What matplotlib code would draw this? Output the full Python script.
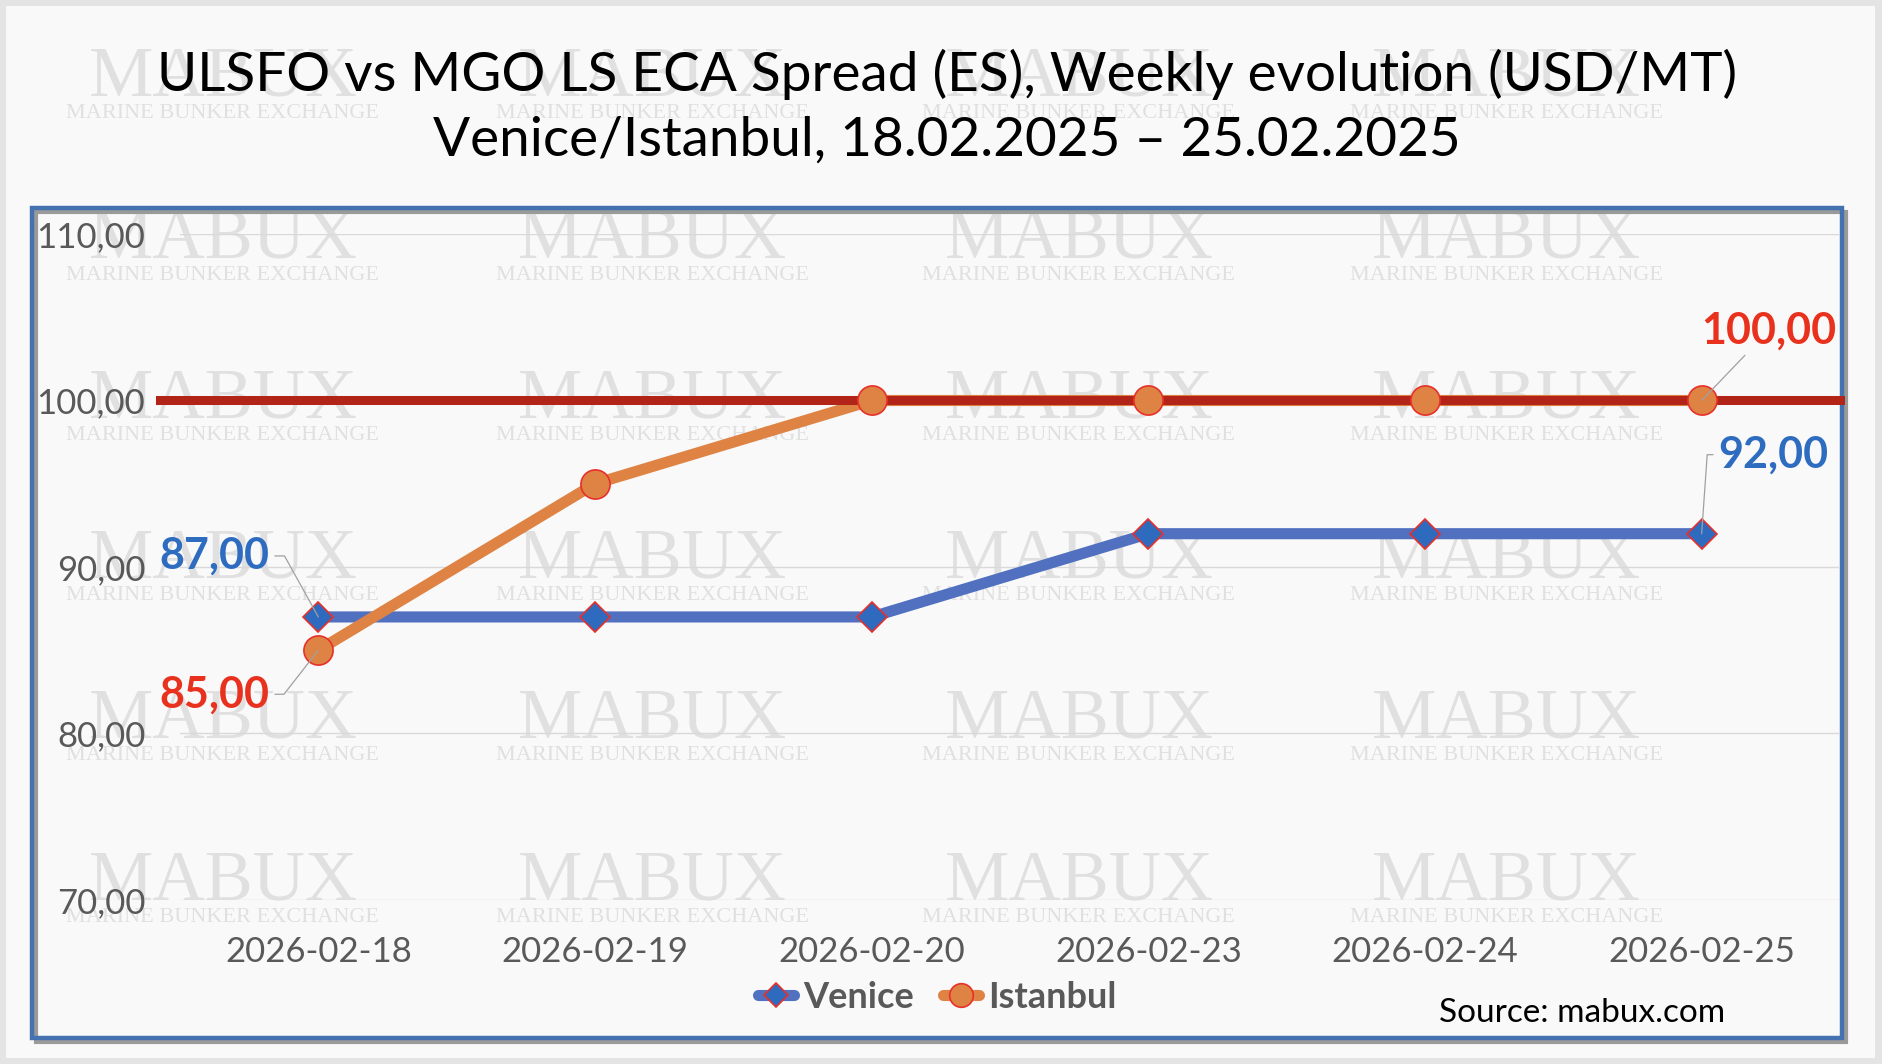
import matplotlib
matplotlib.use("Agg")
import matplotlib.pyplot as plt
from matplotlib.lines import Line2D
from matplotlib.patches import Rectangle
from matplotlib.ticker import FuncFormatter

dates = ["2026-02-18", "2026-02-19", "2026-02-20", "2026-02-23", "2026-02-24", "2026-02-25"]
venice = [87, 87, 87, 92, 92, 92]
istanbul = [85, 95, 100, 100, 100, 100]
reference_level = 100
y_ticks = [70, 80, 90, 100, 110]

title_1 = "ULSFO vs MGO LS ECA Spread (ES), Weekly evolution (USD/MT)"
title_2 = "Venice/Istanbul, 18.02.2025 \u2013 25.02.2025"

W, H = 1882, 1064
BLUE_LINE = "#5170C0"
BLUE_MARK = "#2E6BBF"
ORANGE = "#DE8344"
RED_EDGE = "#E8302A"
RED_REF = "#B22418"
BLUE_LABEL = "#2E6CC0"
RED_LABEL = "#E8321E"
GREY_TXT = "#595959"
FONT = "Lato"


def fx(x):
    return x / W


def fy(y):
    return 1 - y / H


def fmt(v):
    return f"{v:.2f}".replace(".", ",")


plt.rcParams["font.family"] = [FONT, "DejaVu Sans"]
fig = plt.figure(figsize=(W / 100, H / 100), dpi=100)
fig.patch.set_facecolor("#e4e4e4")
fig.patches.append(Rectangle((fx(6), fy(1058)), fx(1869), (1052) / H,
                             transform=fig.transFigure, facecolor="#f9f9f9",
                             edgecolor="none", zorder=-10))

# watermark (only the copies that fit inside the picture)
for cx in [223, 652, 1079, 1506]:
    for cy in [78, 240, 400, 560, 720, 882]:
        fig.text(fx(cx), fy(cy), "MABUX", family="Liberation Serif", fontsize=52,
                 color="#e0e0e0", ha="center", va="center", zorder=-5)
        fig.text(fx(cx), fy(cy + 36), "MARINE BUNKER EXCHANGE", family="Liberation Serif",
                 fontsize=16, color="#e0e0e0", ha="center", va="center", zorder=-5)

# blue frame with shadow
fig.patches.append(Rectangle((fx(36), fy(1042)), fx(1810), 830 / H, transform=fig.transFigure,
                             facecolor="none", edgecolor="#9a9a9a", lw=3, zorder=-4))
fig.patches.append(Rectangle((fx(32), fy(1038)), fx(1810), 830 / H, transform=fig.transFigure,
                             facecolor="none", edgecolor="#4472B0", lw=3.2, zorder=-3))

ax = fig.add_axes([fx(180), fy(900), (1840 - 180) / W, (900 - 234) / H])
ax.set_facecolor("none")
x = list(range(len(dates)))

ax.plot(x, venice, color=BLUE_LINE, lw=8, solid_capstyle="butt", zorder=2)
ax.plot(x, istanbul, color=ORANGE, lw=8, solid_capstyle="butt", zorder=2.1)
ax.axhline(reference_level, xmin=-0.012, xmax=1.0, color=RED_REF, lw=6.5, zorder=3, clip_on=False)
ax.plot(x, venice, ls="none", marker="D", ms=15, mfc=BLUE_MARK, mec=RED_EDGE, mew=1.2, zorder=4)
ax.plot(x, istanbul, ls="none", marker="o", ms=21, mfc=ORANGE, mec=RED_EDGE, mew=1.2, zorder=4.1)

ax.set_xlim(-0.5, len(dates) - 0.5)
ax.set_ylim(y_ticks[0], y_ticks[-1])
ax.set_yticks(y_ticks)
ax.yaxis.set_major_formatter(FuncFormatter(lambda v, p: fmt(v)))
ax.set_xticks(x)
ax.set_xticklabels(dates)
ax.grid(axis="y", color="#d9d9d9", lw=1)
ax.set_axisbelow(True)
for s in ax.spines.values():
    s.set_visible(False)
ax.tick_params(axis="y", length=0, pad=25, labelsize=25, labelcolor=GREY_TXT)
ax.tick_params(axis="x", length=0, pad=26, labelsize=25, labelcolor=GREY_TXT)


# data labels (first and last point of each series)
def label(text, xy, off, color, conn):
    ax.annotate(text, xy, xytext=off, textcoords="offset pixels", ha="center", va="center",
                fontsize=31, fontweight="bold", color=color, zorder=6,
                arrowprops=dict(arrowstyle="-", color="#a0a0a0", lw=0.9, shrinkA=2, shrinkB=0,
                                connectionstyle=conn))


label(fmt(venice[0]), (x[0], venice[0]), (-104, 61), BLUE_LABEL, "angle,angleA=0,angleB=119,rad=0")
label(fmt(istanbul[0]), (x[0], istanbul[0]), (-104, -44), RED_LABEL, "angle,angleA=0,angleB=-128,rad=0")
label(fmt(istanbul[-1]), (x[-1], istanbul[-1]), (67, 70), RED_LABEL, "arc3,rad=0")
label(fmt(venice[-1]), (x[-1], venice[-1]), (72, 79), BLUE_LABEL, "angle,angleA=180,angleB=86,rad=0")

handles = [
    Line2D([], [], color=BLUE_LINE, lw=8, solid_capstyle="round", marker="D", ms=12,
           mfc=BLUE_MARK, mec=RED_EDGE, mew=1.2),
    Line2D([], [], color=ORANGE, lw=8, solid_capstyle="round", marker="o", ms=17,
           mfc=ORANGE, mec=RED_EDGE, mew=1.2),
]
leg = fig.legend(handles, ["Venice", "Istanbul"], loc="center", bbox_to_anchor=(fx(937), fy(997)),
                 ncol=2, frameon=False, handlelength=1.0, handletextpad=0.25, columnspacing=0.8,
                 prop=dict(family=FONT, size=26, weight="bold"))
for t in leg.get_texts():
    t.set_color(GREY_TXT)

fig.text(fx(1582), fy(1013), "Source: mabux.com", fontsize=24, color="black", ha="center", va="center")
fig.text(fx(947), fy(74), title_1, fontsize=39.5, color="black", ha="center", va="center")
fig.text(fx(947), fy(140), title_2, fontsize=39.5, color="black", ha="center", va="center")

fig.savefig("out.png", dpi=100, facecolor=fig.get_facecolor())
